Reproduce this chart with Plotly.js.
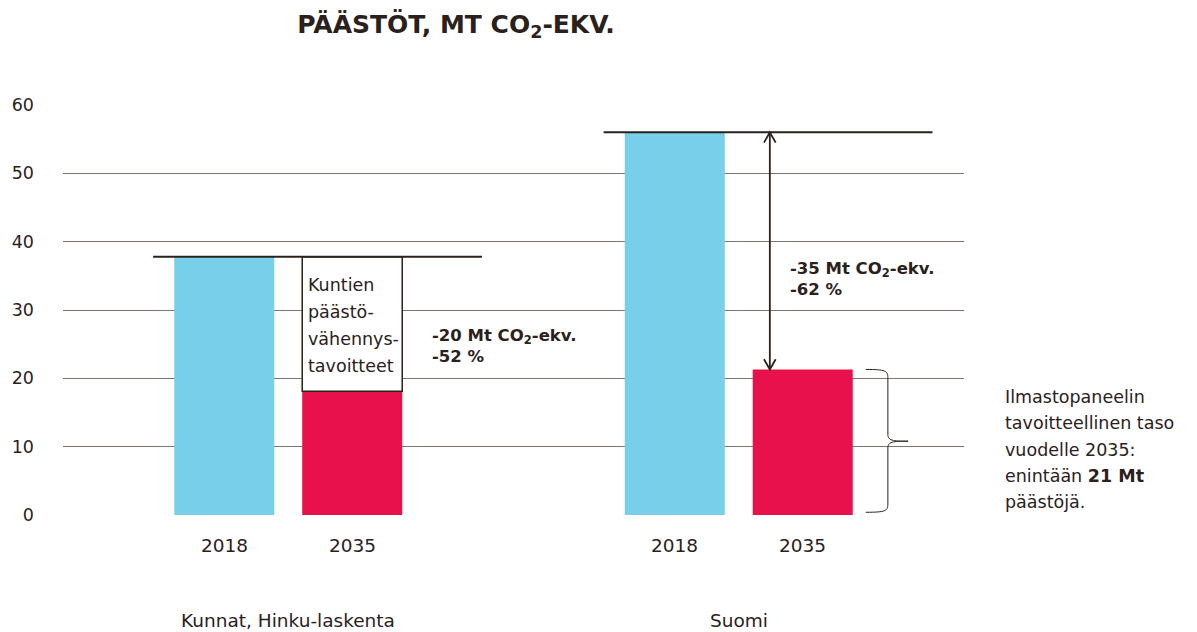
<!DOCTYPE html>
<html>
<head>
<meta charset="utf-8">
<script src="https://cdn.plot.ly/plotly-3.0.1.min.js"></script>
<style>
  html, body { margin: 0; padding: 0; background: #fff; }
  #chart { width: 1197px; height: 632px; }
</style>
</head>
<body>
<div id="chart"></div>
<script>
// data
var groups = ['Kunnat, Hinku-laskenta', 'Suomi'];
var years = ['2018', '2035'];
var emissions2018 = [37.8, 56.0];
var emissions2035 = [18.1, 21.3];
var yTicks = [0, 10, 20, 30, 40, 50, 60];
var targetBoxLines = ['Kuntien', 'päästö-', 'vähennys-', 'tavoitteet'];
var cutLabels = ['-20 Mt CO<sub>2</sub>-ekv.<br>-52 %', '-35 Mt CO<sub>2</sub>-ekv.<br>-62 %'];
var sideNoteLines = ['Ilmastopaneelin', 'tavoitteellinen taso', 'vuodelle 2035:', 'enintään <b>21 Mt</b>', 'päästöjä.'];

var dark = '#2b211c';
var blue = '#77cfea';
var red = '#e8114b';
var font = 'DejaVu Sans, sans-serif';

// bar slot geometry (category units)
var slot = 0.284;
var half = slot / 2;
var barW = 0.222;

var trace2018 = {
  type: 'bar', name: years[0], x: groups, y: emissions2018,
  offsetgroup: 'a', marker: {color: blue}, hoverinfo: 'skip'
};
var trace2035 = {
  type: 'bar', name: years[1], x: groups, y: emissions2035,
  offsetgroup: 'b', marker: {color: red}, hoverinfo: 'skip'
};
// municipal reduction target: the gap between 2018 and 2035
var traceGap = {
  type: 'bar', name: 'tavoite', x: [groups[0]],
  y: [emissions2018[0] - emissions2035[0]], base: [emissions2035[0]],
  offsetgroup: 'b',
  marker: {color: '#ffffff', line: {color: dark, width: 1.5}},
  hoverinfo: 'skip'
};

var shapes = [];
var annotations = [];

groups.forEach(function (g, i) {
  // level line at 2018 emissions
  shapes.push({
    type: 'line', xref: 'x', yref: 'y', layer: 'above',
    x0: i - 0.30, x1: i + 0.43, y0: emissions2018[i], y1: emissions2018[i],
    line: {color: dark, width: 2}
  });
  // year labels
  years.forEach(function (yr, j) {
    annotations.push({
      xref: 'x', yref: 'paper', x: i + (j === 0 ? -half : half), y: 0,
      yshift: -30, yanchor: 'middle', showarrow: false, text: yr,
      font: {family: font, size: 18.5, color: dark}
    });
  });
  // group labels
  annotations.push({
    xref: 'x', yref: 'paper', x: i, y: 0, yshift: -105, yanchor: 'middle',
    showarrow: false, text: g, font: {family: font, size: 18.5, color: dark}
  });
});

// text inside the white target box
targetBoxLines.forEach(function (t, k) {
  annotations.push({
    xref: 'x', yref: 'y', x: half - barW / 2 + 0.008, y: 33.7 - k * 3.95,
    xanchor: 'left', yanchor: 'middle', showarrow: false, text: t,
    font: {family: font, size: 17.5, color: dark}
  });
});

// reduction labels
annotations.push({
  xref: 'x', yref: 'y', x: 0.315, y: 24.8, xanchor: 'left', yanchor: 'middle',
  showarrow: false, align: 'left', text: cutLabels[0],
  font: {family: font, size: 16.5, color: dark, weight: 700}
});
annotations.push({
  xref: 'x', yref: 'y', x: 1.109, y: 34.6, xanchor: 'left', yanchor: 'middle',
  showarrow: false, align: 'left', text: cutLabels[1],
  font: {family: font, size: 16.5, color: dark, weight: 700}
});

// double arrow for Suomi reduction
var arrowX = 1 + 0.069;
var arrowTop = emissions2018[1], arrowBot = emissions2035[1];
shapes.push({type: 'line', xref: 'x', yref: 'y', x0: arrowX, x1: arrowX, y0: arrowTop, y1: arrowBot,
  line: {color: dark, width: 1.8}});
shapes.push({type: 'path', xref: 'x', yref: 'y',
  path: 'M' + (arrowX - 0.013) + ',' + (arrowTop - 1.5) + ' L' + arrowX + ',' + arrowTop + ' L' + (arrowX + 0.013) + ',' + (arrowTop - 1.5),
  line: {color: dark, width: 1.8}});
shapes.push({type: 'path', xref: 'x', yref: 'y',
  path: 'M' + (arrowX - 0.013) + ',' + (arrowBot + 1.5) + ' L' + arrowX + ',' + arrowBot + ' L' + (arrowX + 0.013) + ',' + (arrowBot + 1.5),
  line: {color: dark, width: 1.8}});

// curly brace beside Suomi 2035 bar
var bx0 = 1.282, bx1 = 1.331, bx2 = 1.376;
var bTop = emissions2035[1], bBot = 0.4, bMid = 10.8;
shapes.push({type: 'path', xref: 'x', yref: 'y',
  path: 'M' + bx0 + ',' + bTop +
        ' C' + (bx1 - 0.005) + ',' + bTop + ' ' + bx1 + ',' + (bTop - 0.2) + ' ' + bx1 + ',' + (bTop - 1.2) +
        ' L' + bx1 + ',' + (bMid + 1.0) +
        ' C' + bx1 + ',' + (bMid + 0.1) + ' ' + (bx1 + 0.01) + ',' + bMid + ' ' + bx2 + ',' + bMid +
        ' C' + (bx1 + 0.01) + ',' + bMid + ' ' + bx1 + ',' + (bMid - 0.1) + ' ' + bx1 + ',' + (bMid - 1.0) +
        ' L' + bx1 + ',' + (bBot + 1.2) +
        ' C' + bx1 + ',' + (bBot + 0.2) + ' ' + (bx1 - 0.005) + ',' + bBot + ' ' + bx0 + ',' + bBot,
  line: {color: dark, width: 1}});

// side note
sideNoteLines.forEach(function (t, k) {
  annotations.push({
    xref: 'paper', yref: 'paper', x: 1.043, y: 0, yshift: 118 - k * 26.3,
    xanchor: 'left', yanchor: 'middle', showarrow: false, text: t,
    font: {family: font, size: 17.5, color: dark}
  });
});

var layout = {
  width: 1197, height: 632,
  margin: {l: 63, r: 233, t: 105, b: 117},
  paper_bgcolor: '#ffffff', plot_bgcolor: '#ffffff',
  showlegend: false,
  barmode: 'group', bargap: 1 - 2 * slot, bargroupgap: 1 - barW / slot,
  title: {
    text: 'PÄÄSTÖT, MT CO<sub>2</sub>-EKV.',
    xref: 'paper', x: 0.26, xanchor: 'left',
    yref: 'container', y: 0.962, yanchor: 'middle',
    font: {family: 'DejaVu Sans, sans-serif', size: 25, color: dark, weight: 900}
  },
  xaxis: {
    type: 'category', range: [-0.5, 1.5], showticklabels: false,
    showgrid: false, zeroline: false, showline: false, fixedrange: true
  },
  yaxis: {
    range: [0, 60], tickvals: yTicks, showgrid: true, gridcolor: '#7d7570', gridwidth: 1,
    zeroline: false, showline: false, ticks: '', ticklabelstandoff: 28,
    tickfont: {family: font, size: 17.5, color: dark}, fixedrange: true
  },
  shapes: shapes,
  annotations: annotations
};

Plotly.newPlot('chart', [trace2018, trace2035, traceGap], layout, {displayModeBar: false, staticPlot: true});
</script>
</body>
</html>
